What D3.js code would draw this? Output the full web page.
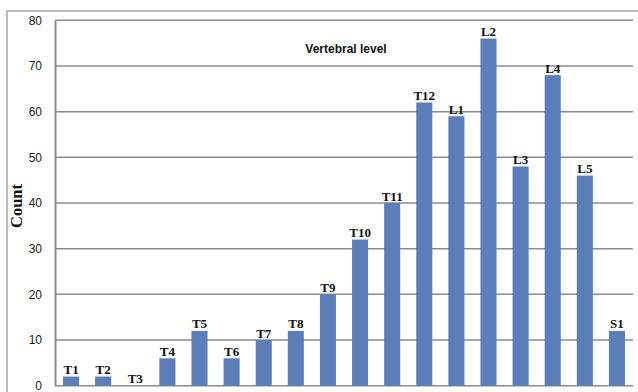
<!DOCTYPE html>
<html>
<head>
<meta charset="utf-8">
<script src="https://cdn.jsdelivr.net/npm/d3@7"></script>
<style>
  html, body { margin: 0; padding: 0; background: #fff; }
  svg { display: block; }
</style>
</head>
<body>
<svg id="chart" width="638" height="392"></svg>
<script>
// Number of cases per vertebral level
const levels = ["T1","T2","T3","T4","T5","T6","T7","T8","T9","T10","T11","T12","L1","L2","L3","L4","L5","S1"];
const counts = [2, 2, 0, 6, 12, 6, 10, 12, 20, 32, 40, 62, 59, 76, 48, 68, 46, 12];
const yTicks = [0, 10, 20, 30, 40, 50, 60, 70, 80];

const svg = d3.select("#chart");
const plot = { left: 55, right: 633, top: 20.3, bottom: 385.7 };

const x = d3.scaleBand()
  .domain(levels)
  .range([plot.left, plot.right])
  .paddingInner(0.5)
  .paddingOuter(0.25);

const y = d3.scaleLinear()
  .domain([0, 80])
  .range([plot.bottom, plot.top]);

// outer frame (top and left edges)
svg.append("path")
  .attr("d", "M7,392 V11 H638")
  .attr("fill", "none")
  .attr("stroke", "#a6a6a6")
  .attr("stroke-width", 1.5);

// horizontal gridlines
svg.append("g")
  .selectAll("line")
  .data(yTicks)
  .join("line")
  .attr("x1", plot.left)
  .attr("x2", plot.right)
  .attr("y1", d => y(d))
  .attr("y2", d => y(d))
  .attr("stroke", "#8c8c8c")
  .attr("stroke-width", 1.5);

// value axis
const yAxis = svg.append("g")
  .attr("transform", `translate(${plot.left},0)`)
  .call(d3.axisLeft(y).tickValues(yTicks).tickSize(0).tickPadding(13));
yAxis.select(".domain").attr("stroke", "#8c8c8c").attr("stroke-width", 2);
yAxis.selectAll("text")
  .attr("font-family", "'Liberation Sans', Arial, sans-serif")
  .attr("font-size", 12)
  .attr("fill", "#1a1a1a");

// bars
svg.append("g")
  .selectAll("rect")
  .data(levels.map((l, i) => ({ level: l, value: counts[i] })))
  .join("rect")
  .attr("x", d => x(d.level))
  .attr("width", x.bandwidth())
  .attr("y", d => y(d.value))
  .attr("height", d => y(0) - y(d.value))
  .attr("fill", "#5b7ebb");

// level labels above bars
svg.append("g")
  .selectAll("text")
  .data(levels.map((l, i) => ({ level: l, value: counts[i] })))
  .join("text")
  .attr("x", d => x(d.level) + x.bandwidth() / 2)
  .attr("y", d => y(d.value) - 2.5)
  .attr("text-anchor", "middle")
  .attr("font-family", "'Liberation Serif', 'Times New Roman', serif")
  .attr("font-weight", "bold")
  .attr("font-size", 13)
  .attr("fill", "#111")
  .text(d => d.level);

// chart title
svg.append("text")
  .attr("x", 346)
  .attr("y", 53)
  .attr("text-anchor", "middle")
  .attr("font-family", "'Liberation Sans', Arial, sans-serif")
  .attr("font-weight", "bold")
  .attr("font-size", 12)
  .attr("fill", "#111")
  .text("Vertebral level");

// axis title
svg.append("text")
  .attr("transform", "translate(22,206) rotate(-90)")
  .attr("text-anchor", "middle")
  .attr("font-family", "'Liberation Serif', 'Times New Roman', serif")
  .attr("font-weight", "bold")
  .attr("font-size", 16.5)
  .attr("fill", "#111")
  .text("Count");
</script>
</body>
</html>
